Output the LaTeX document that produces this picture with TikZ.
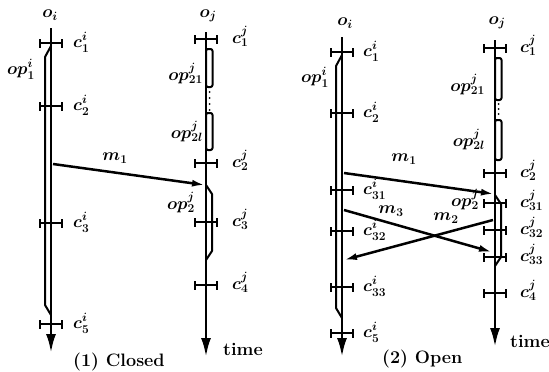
\documentclass[tikz,border=0pt]{standalone}
\usetikzlibrary{arrows.meta}
\begin{document}
\begin{tikzpicture}[x=1pt,y=-1pt,line join=round,
  proc/.style={line width=2.8pt,-{Latex[length=19pt,width=10pt]}},
  msg/.style={line width=2.5pt,-{Latex[length=13pt,width=7pt]}},
  opline/.style={line width=2pt},
  tickline/.style={line width=2.5pt},
  lab/.style={inner sep=0pt,font=\fontsize{18}{20}\selectfont\boldmath},
  captxt/.style={inner sep=0pt,font=\fontsize{18}{20}\selectfont\bfseries},
  tickmark/.pic={\draw[tickline] (-11pt,0pt) -- (11pt,0pt) (-11pt,-4.5pt) -- (-11pt,4.5pt) (11pt,-4.5pt) -- (11pt,4.5pt);}
]
\useasboundingbox (0,0) rectangle (549,372);

% ---------------- Panel 1: Closed ----------------
\coordinate (i1top) at (51,28);  \coordinate (i1bot) at (51,353);
\coordinate (j1top) at (206,32); \coordinate (j1bot) at (206,357);
\draw[proc] (i1top) -- (i1bot);
\draw[proc] (j1top) -- (j1bot);
\node[lab] (oi1) at (50,15) {$o_i$};
\node[lab] (oj1) at (208,16) {$o_j$};

\foreach \y in {43,106,223,324} \pic at (51,\y) {tickmark};
\foreach \y in {39,163,222,285} \pic at (206,\y) {tickmark};

% operations
\draw[opline] (51,46) -- (45,57) -- (45,305) -- (51,315);
\draw[opline,rounded corners=2pt] (206,49) rectangle (212.5,87);
\draw[opline,rounded corners=2pt] (206,113) rectangle (212.5,150);
\foreach \y in {92,98,104,110} \fill (209.5,\y) circle (1pt);
\draw[opline] (206,185) -- (212,194) -- (212,251) -- (206,260);

% labels
\node[lab,anchor=base west] (c1i1) at (73,47) {$c_1^i$};
\node[lab,anchor=base west] (c2i1) at (73,110) {$c_2^i$};
\node[lab,anchor=base west] (c3i1) at (73,227) {$c_3^i$};
\node[lab,anchor=base west] (c5i1) at (73,328) {$c_5^i$};
\node[lab,anchor=base west] (c1j1) at (232,43) {$c_1^j$};
\node[lab,anchor=base west] (c2j1) at (232,167) {$c_2^j$};
\node[lab,anchor=base west] (c3j1) at (232,226) {$c_3^j$};
\node[lab,anchor=base west] (c4j1) at (232,289) {$c_4^j$};
\node[lab,anchor=base east] (op1i1) at (35,74) {$op_1^i$};
\node[lab,anchor=base east] (op21j1) at (203,80) {$op_{21}^j$};
\node[lab,anchor=base east] (op2lj1) at (203,138) {$op_{2l}^j$};
\node[lab,anchor=base east] (op2j1) at (195,209) {$op_2^j$};

% message
\coordinate (m1s1) at (53,164); \coordinate (m1e1) at (205,185);
\draw[msg] (m1s1) -- (m1e1);
\node[lab] (m1l1) at (115,158) {$m_1$};

\node[captxt,anchor=base west] (cap1) at (73,366) {(1) Closed};
\node[captxt,anchor=base west] (time1) at (223,355) {time};

% ---------------- Panel 2: Open ----------------
\coordinate (i2top) at (342,37);  \coordinate (i2bot) at (342,357);
\coordinate (j2top) at (495,40);  \coordinate (j2bot) at (495,347);
\draw[proc] (i2top) -- (i2bot);
\draw[proc] (j2top) -- (j2bot);
\node[lab] (oi2) at (345,23) {$o_i$};
\node[lab] (oj2) at (497,23) {$o_j$};

\foreach \y in {52,113,190,231,287,333} \pic at (342,\y) {tickmark};
\foreach \y in {48,173,203,230,257,293} \pic at (495,\y) {tickmark};

\draw[opline] (342,55) -- (336,66) -- (336,308) -- (342,318);
\draw[opline,rounded corners=2pt] (495,58) rectangle (501.5,100);
\draw[opline,rounded corners=2pt] (495,120) rectangle (501.5,160);
\foreach \y in {104,109,114} \fill (498.5,\y) circle (1pt);
\draw[opline] (495,195) -- (501,204) -- (501,257) -- (495,266);

\node[lab,anchor=base west] (c1i2) at (363,56) {$c_1^i$};
\node[lab,anchor=base west] (c2i2) at (363,117) {$c_2^i$};
\node[lab,anchor=base west] (c31i2) at (363,194) {$c_{31}^i$};
\node[lab,anchor=base west] (c32i2) at (363,235) {$c_{32}^i$};
\node[lab,anchor=base west] (c33i2) at (363,291) {$c_{33}^i$};
\node[lab,anchor=base west] (c5i2) at (363,337) {$c_5^i$};
\node[lab,anchor=base west] (c1j2) at (520,52) {$c_1^j$};
\node[lab,anchor=base west] (c2j2) at (520,177) {$c_2^j$};
\node[lab,anchor=base west] (c31j2) at (520,207) {$c_{31}^j$};
\node[lab,anchor=base west] (c32j2) at (520,234) {$c_{32}^j$};
\node[lab,anchor=base west] (c33j2) at (520,261) {$c_{33}^j$};
\node[lab,anchor=base west] (c4j2) at (520,297) {$c_4^j$};
\node[lab,anchor=base east] (op1i2) at (329,82) {$op_1^i$};
\node[lab,anchor=base east] (op21j2) at (485,91) {$op_{21}^j$};
\node[lab,anchor=base east] (op2lj2) at (485,146) {$op_{2l}^j$};
\node[lab,anchor=base east] (op2j2) at (479,206) {$op_2^j$};

\coordinate (m1s2) at (344,173); \coordinate (m1e2) at (494,194);
\coordinate (m3s2) at (344,210); \coordinate (m3e2) at (492,252);
\coordinate (m2s2) at (493,220); \coordinate (m2e2) at (344,260);
\draw[msg] (m1s2) -- (m1e2);
\draw[msg] (m3s2) -- (m3e2);
\draw[msg] (m2s2) -- (m2e2);
\node[lab] (m1l2) at (404,159) {$m_1$};
\node[lab] (m3l2) at (391,211) {$m_3$};
\node[lab] (m2l2) at (446,218) {$m_2$};

\node[captxt,anchor=base west] (cap2) at (382,363) {(2) Open};
\node[captxt,anchor=base west] (time2) at (510,347) {time};
\end{tikzpicture}
\end{document}
